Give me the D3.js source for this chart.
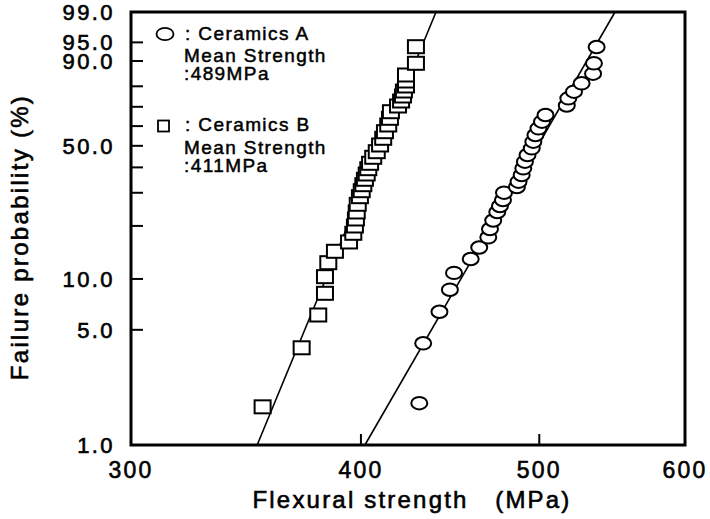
<!DOCTYPE html>
<html><head><meta charset="utf-8">
<script src="https://cdn.jsdelivr.net/npm/d3@7/dist/d3.min.js"></script>
<style>body{margin:0;background:#fff}svg{display:block}</style>
</head><body><svg id="c" width="710" height="519"></svg>
<script>
// ---- data ----
const xTicks = [300, 400, 500, 600];
const xTickLabels = ["300", "400", "500", "600"];
const yTicks = [5, 10, 20, 30, 40, 50, 60, 70, 80, 90, 95];
const yLabelValues = [1, 5, 10, 50, 90, 95, 99];
const yLabels = ["1.0", "5.0", "10.0", "50.0", "90.0", "95.0", "99.0"];

// Ceramics A (circles): flexural strength (MPa) and failure probability (%)
const strengthA = [430.3, 432.4, 441.3, 447.1, 449.4, 458.9, 463.8, 469.1, 470.1, 472.0, 474.4, 476.0, 477.8, 478.4,
  486.2, 487.2, 489.1, 490.1, 491.1, 492.7, 495.3, 496.3, 497.6, 499.5, 501.7, 503.9, 517.5, 518.5, 522.2, 527.2, 534.8, 535.4, 537.2];
const probA = [1.80, 4.15, 6.41, 8.65, 10.84, 13.04, 15.16, 17.30, 19.24, 21.41, 23.80, 25.61, 27.53, 30.03,
  32.10, 34.11, 36.79, 39.61, 42.52, 45.60, 48.79, 52.04, 55.42, 58.86, 62.29, 65.78, 70.67, 74.28, 77.49, 81.35, 85.39, 89.23, 93.96];

// Ceramics B (squares)
const strengthB = [353.7, 371.4, 379.2, 382.4, 382.4, 384.0, 387.2, 394.1, 396.2, 397.0, 397.5, 397.9, 398.4, 399.5,
  400.4, 401.2, 402.0, 402.9, 403.7, 404.6, 406.2, 408.0, 409.7, 411.3, 412.2, 413.9, 414.8, 415.3, 419.0, 420.6,
  421.6, 422.1, 423.2, 423.2, 423.2, 428.5, 428.5];
const probB = [1.71, 3.90, 6.13, 8.24, 10.31, 12.42, 14.43, 16.29, 18.21, 19.98, 21.82, 23.80, 26.14, 28.64,
  30.74, 32.96, 35.06, 37.20, 39.44, 41.80, 44.53, 47.16, 50.41, 53.75, 57.11, 60.58, 64.06, 67.48, 70.41, 72.94,
  75.41, 77.81, 80.14, 82.35, 84.87, 89.23, 94.03];

// Weibull fit lines (two end points each)
const fitStrengthA = [402.0, 549.7];
const fitProbA = [1, 99];
const fitStrengthB = [351.3, 439.4];
const fitProbB = [1, 99];

const legendA = [": Ceramics A", "Mean Strength", ":489MPa"];
const legendB = [": Ceramics B", "Mean Strength", ":411MPa"];

// ---- drawing ----
const svg = d3.select("#c");
const FONT = "'Liberation Sans', Arial, Helvetica, sans-serif";
const L = 131, R = 685, T = 12, B = 445;

const weib = p => Math.log(-Math.log(1 - p / 100));
const x = d3.scaleLog().domain([300, 600]).range([L, R]);
const yLin = d3.scaleLinear().domain([weib(1), weib(99)]).range([B, T]);
const y = p => yLin(weib(p));

function heavy(sel, w) {
  return sel.attr("fill", "#000").attr("stroke", "#000").attr("stroke-width", w).attr("paint-order", "stroke");
}

// y ticks (inward)
svg.append("g").selectAll("line").data(yTicks).join("line")
  .attr("x1", L).attr("x2", L + 12)
  .attr("y1", d => y(d)).attr("y2", d => y(d))
  .attr("stroke", "#000").attr("stroke-width", 2);

// x ticks (inward)
svg.append("g").selectAll("line").data(xTicks.slice(1, -1)).join("line")
  .attr("x1", d => x(d)).attr("x2", d => x(d))
  .attr("y1", B).attr("y2", B - 11)
  .attr("stroke", "#000").attr("stroke-width", 2);

// fit lines
const line = d3.line().x(d => x(d[0])).y(d => y(d[1]));
[[fitStrengthA, fitProbA], [fitStrengthB, fitProbB]].forEach(([s, p]) => {
  svg.append("path").datum(s.map((v, i) => [v, p[i]]))
    .attr("d", line).attr("fill", "none").attr("stroke", "#000").attr("stroke-width", 1.6);
});

// squares B
svg.append("g").selectAll("rect").data(strengthB.map((v, i) => [v, probB[i]])).join("rect")
  .attr("x", d => x(d[0]) - 8).attr("y", d => y(d[1]) - 6.5)
  .attr("width", 16).attr("height", 13)
  .attr("fill", "#fff").attr("stroke", "#000").attr("stroke-width", 2);

// circles A
svg.append("g").selectAll("ellipse").data(strengthA.map((v, i) => [v, probA[i]])).join("ellipse")
  .attr("cx", d => x(d[0])).attr("cy", d => y(d[1]))
  .attr("rx", 8).attr("ry", 6.2)
  .attr("fill", "#fff").attr("stroke", "#000").attr("stroke-width", 2);

// frame
svg.append("rect").attr("x", L).attr("y", T).attr("width", R - L).attr("height", B - T)
  .attr("fill", "none").attr("stroke", "#000").attr("stroke-width", 3);

// y labels
heavy(svg.append("g").attr("font-family", FONT).attr("font-size", 22).attr("letter-spacing", 2.4), 0.6)
  .selectAll("text").data(yLabelValues).join("text")
  .attr("x", 115).attr("y", d => y(d)).attr("dy", "0.36em")
  .attr("text-anchor", "end")
  .text((d, i) => yLabels[i]);

// x labels
heavy(svg.append("g").attr("font-family", FONT).attr("font-size", 23).attr("letter-spacing", 2.2), 0.6)
  .selectAll("text").data(xTicks).join("text")
  .attr("x", d => x(d)).attr("y", 478)
  .attr("text-anchor", "middle")
  .text((d, i) => xTickLabels[i]);

// axis titles
heavy(svg.append("text").attr("x", 412).attr("y", 508).attr("text-anchor", "middle")
  .attr("font-family", FONT).attr("font-size", 24).attr("letter-spacing", 2.2)
  .style("white-space", "pre"), 0.6)
  .text("Flexural strength   (MPa)");
heavy(svg.append("text").attr("transform", "translate(28,237) rotate(-90)").attr("text-anchor", "middle")
  .attr("font-family", FONT).attr("font-size", 24).attr("letter-spacing", 2.3), 0.6)
  .text("Failure probability (%)");

// legend
const lg = svg.append("g");
lg.append("ellipse").attr("cx", 165).attr("cy", 34).attr("rx", 8.5).attr("ry", 6.2)
  .attr("fill", "#fff").attr("stroke", "#000").attr("stroke-width", 1.8);
lg.append("rect").attr("x", 158).attr("y", 120.5).attr("width", 11).attr("height", 11)
  .attr("fill", "#fff").attr("stroke", "#000").attr("stroke-width", 1.8);
const lt = heavy(lg.append("g").attr("font-family", FONT).attr("font-size", 19).attr("letter-spacing", 1.4), 0.5);
const lgA = [[185, 40], [184, 62], [184, 80]];
const lgB = [[185, 131], [184, 154], [184, 172]];
legendA.forEach((t, i) => lt.append("text").attr("x", lgA[i][0]).attr("y", lgA[i][1]).text(t));
legendB.forEach((t, i) => lt.append("text").attr("x", lgB[i][0]).attr("y", lgB[i][1]).text(t));
</script></body></html>
